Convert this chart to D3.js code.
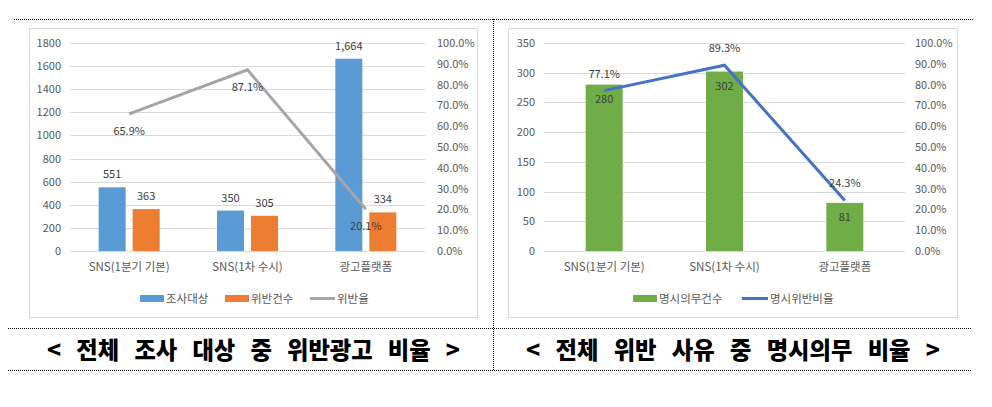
<!DOCTYPE html>
<html><head><meta charset="utf-8">
<script src="https://cdn.jsdelivr.net/npm/d3@7"></script>
<style>
body{margin:0;background:#fff;}
svg{display:block;}
text{font-family:"Malgun Gothic","Noto Sans CJK KR","Noto Sans",sans-serif;}
</style></head><body>
<svg id="c" width="992" height="407"></svg>
<script>
// ---- data ----
const categories = ["SNS(1분기 기본)", "SNS(1차 수시)", "광고플랫폼"];
const surveyed = [551, 350, 1664];
const violations = [363, 305, 334];
const violationRate = [65.9, 87.1, 20.1];
const disclosureCount = [280, 302, 81];
const disclosureRate = [77.1, 89.3, 24.3];
const leftTicks1 = [0,200,400,600,800,1000,1200,1400,1600,1800];
const leftTicks2 = [0,50,100,150,200,250,300,350];
const pctTicks = [0,10,20,30,40,50,60,70,80,90,100];
const titles = ["< 전체 조사 대상 중 위반광고 비율 >", "< 전체 위반 사유 중 명시의무 비율 >"];
const legend1 = ["조사대상", "위반건수", "위반율"];
const legend2 = ["명시의무건수", "명시위반비율"];

const svg = d3.select("#c");
const tc = "#595959";

// dotted frame lines
const dot = (x1,y1,x2,y2)=>svg.append("line").attr("x1",x1).attr("y1",y1).attr("x2",x2).attr("y2",y2)
  .attr("stroke","#000").attr("stroke-width",1).attr("stroke-dasharray","1,1");
dot(14,19.5,973,19.5);
dot(8,328.5,972,328.5);
dot(8,370.5,972,370.5);
dot(493.5,19,493.5,370);

// titles: heavy text, word gaps fitted to width
function title(txt, x0, x1){
  const sx = 0.97;
  const t = svg.append("text").attr("transform",`translate(${x0},359) scale(${sx},1)`)
    .attr("font-size",24).attr("font-weight",900).attr("fill","#000").text(txt);
  const nat = t.node().getComputedTextLength();
  const gaps = txt.split(" ").length-1;
  t.attr("word-spacing", ((x1-x0)/sx-nat)/gaps);
}
title(titles[0],47,460);
title(titles[1],526,940);

function chart(o){
  const g = svg.append("g");
  g.append("rect").attr("x",o.fx+0.5).attr("y",28.5).attr("width",o.fw).attr("height",289)
    .attr("fill","#fff").attr("stroke","#d9d9d9");
  const y = d3.scaleLinear().domain([0,o.ymax]).range([251,43]);
  const yr = d3.scaleLinear().domain([0,100]).range([251,43]);
  const x = d3.scaleBand().domain(categories).range([o.x0,o.x1]);
  g.selectAll(".gl").data(o.ticks).enter().append("line")
    .attr("x1",o.x0).attr("x2",o.x1).attr("y1",d=>Math.round(y(d))+0.5).attr("y2",d=>Math.round(y(d))+0.5)
    .attr("stroke","#d9d9d9").attr("stroke-width",1);
  const la = g.append("g").attr("transform",`translate(${o.lx},0)`)
    .call(d3.axisLeft(y).tickValues(o.ticks).tickSize(0).tickPadding(0).tickFormat(d3.format("d")));
  la.select(".domain").remove();
  la.selectAll("text").attr("font-size",11).attr("fill",tc).attr("font-family",null);
  const ra = g.append("g").attr("transform",`translate(${o.rx},0)`)
    .call(d3.axisRight(yr).tickValues(pctTicks).tickSize(0).tickPadding(0).tickFormat(d=>d.toFixed(1)+"%"));
  ra.select(".domain").remove();
  ra.selectAll("text").attr("font-size",11).attr("fill",tc).attr("font-family",null);
  const xa = g.append("g").attr("transform",`translate(0,263)`)
    .call(d3.axisBottom(x).tickSize(0).tickPadding(0));
  xa.select(".domain").remove();
  xa.selectAll("text").attr("font-size",11.5).attr("fill",tc).attr("font-family",null);
  return {g,x,y,yr};
}

// ---- chart 1 ----
{
  const {g,x,y,yr} = chart({fx:29,fw:448,x0:70,x1:425,lx:61,rx:437,ymax:1800,ticks:leftTicks1});
  const bw = 27, gap = 7;
  const sub = d3.scaleOrdinal().domain([0,1]).range([-(bw+gap/2), gap/2]);
  const series = [{v:surveyed,c:"#5B9BD5"},{v:violations,c:"#ED7D31"}];
  series.forEach((s,si)=>{
    g.selectAll(null).data(s.v).enter().append("rect")
      .attr("x",(d,i)=>x(categories[i])+x.bandwidth()/2+sub(si)).attr("width",bw)
      .attr("y",d=>y(d)).attr("height",d=>y(0)-y(d)).attr("fill",s.c);
    g.selectAll(null).data(s.v).enter().append("text")
      .attr("x",(d,i)=>x(categories[i])+x.bandwidth()/2+sub(si)+bw/2).attr("y",d=>y(d)-9)
      .attr("text-anchor","middle").attr("font-size",11).attr("fill","#404040")
      .text(d=>d3.format(",")(d));
  });
  const line = d3.line().x((d,i)=>x(categories[i])+x.bandwidth()/2).y(d=>yr(d));
  g.append("path").datum(violationRate).attr("d",line).attr("fill","none")
    .attr("stroke","#A5A5A5").attr("stroke-width",3);
  g.selectAll(null).data(violationRate).enter().append("text")
    .attr("x",(d,i)=>x(categories[i])+x.bandwidth()/2).attr("y",d=>yr(d)+21)
    .attr("text-anchor","middle").attr("font-size",11).attr("fill","#404040").text(d=>d.toFixed(1)+"%");
  const lg = g.append("g");
  lg.append("rect").attr("x",140).attr("y",295).attr("width",24).attr("height",7).attr("fill","#5B9BD5");
  lg.append("text").attr("x",166).attr("y",302.5).attr("font-size",11.5).attr("fill",tc).text(legend1[0]);
  lg.append("rect").attr("x",225).attr("y",295).attr("width",24).attr("height",7).attr("fill","#ED7D31");
  lg.append("text").attr("x",251).attr("y",302.5).attr("font-size",11.5).attr("fill",tc).text(legend1[1]);
  lg.append("line").attr("x1",310).attr("x2",335).attr("y1",298.5).attr("y2",298.5).attr("stroke","#A5A5A5").attr("stroke-width",3);
  lg.append("text").attr("x",337).attr("y",302.5).attr("font-size",11.5).attr("fill",tc).text(legend1[2]);
}

// ---- chart 2 ----
{
  const {g,x,y,yr} = chart({fx:508,fw:449,x0:544,x1:905,lx:535,rx:915,ymax:350,ticks:leftTicks2});
  const bw = 37;
  g.selectAll(null).data(disclosureCount).enter().append("rect")
    .attr("x",(d,i)=>x(categories[i])+x.bandwidth()/2-bw/2).attr("width",bw)
    .attr("y",d=>y(d)).attr("height",d=>y(0)-y(d)).attr("fill","#70AD47");
  g.selectAll(null).data(disclosureCount).enter().append("text")
    .attr("x",(d,i)=>x(categories[i])+x.bandwidth()/2).attr("y",d=>y(d)+18)
    .attr("text-anchor","middle").attr("font-size",11).attr("fill","#404040").text(d=>d);
  const line = d3.line().x((d,i)=>x(categories[i])+x.bandwidth()/2).y(d=>yr(d));
  g.append("path").datum(disclosureRate).attr("d",line).attr("fill","none")
    .attr("stroke","#4472C4").attr("stroke-width",3);
  g.selectAll(null).data(disclosureRate).enter().append("text")
    .attr("x",(d,i)=>x(categories[i])+x.bandwidth()/2).attr("y",d=>yr(d)-13)
    .attr("text-anchor","middle").attr("font-size",11).attr("fill","#404040").text(d=>d.toFixed(1)+"%");
  const lg = g.append("g");
  lg.append("rect").attr("x",633).attr("y",295).attr("width",24).attr("height",7).attr("fill","#70AD47");
  lg.append("text").attr("x",659).attr("y",302.5).attr("font-size",11.5).attr("fill",tc).text(legend2[0]);
  lg.append("line").attr("x1",742).attr("x2",768).attr("y1",298.5).attr("y2",298.5).attr("stroke","#4472C4").attr("stroke-width",3);
  lg.append("text").attr("x",770).attr("y",302.5).attr("font-size",11.5).attr("fill",tc).text(legend2[1]);
}
</script>
</body></html>
